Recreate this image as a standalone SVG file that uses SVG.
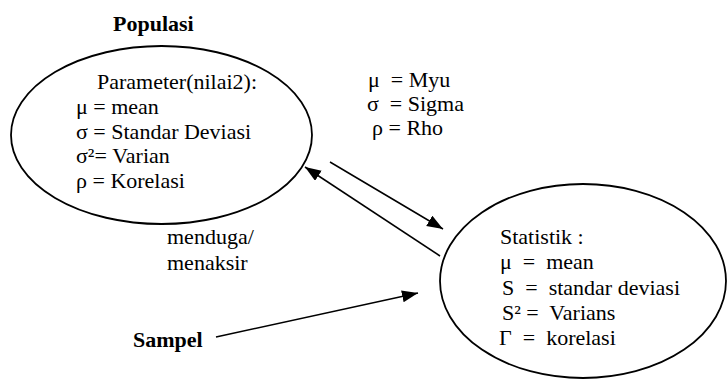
<svg xmlns="http://www.w3.org/2000/svg" width="727" height="379" viewBox="0 0 727 379">
<style>
text{font-family:"Liberation Serif","Times New Roman",serif;font-size:22px;fill:#000;white-space:pre}
.b{font-weight:bold}
.shape{fill:#fff;stroke:#000;stroke-width:1.8}
.conn{fill:none;stroke:#000;stroke-width:1.5}
</style>
<defs>
<marker id="ah" markerUnits="userSpaceOnUse" markerWidth="17" markerHeight="13" refX="16" refY="6" orient="auto">
<path d="M0,0 L16,6 L0,12 z" fill="#000"/>
</marker>
</defs>
<rect width="727" height="379" fill="#fff"/>
<g id="populasi">
<text class="b" x="113" y="31">Populasi</text>
<ellipse class="shape" cx="161.5" cy="135" rx="150.5" ry="89"/>
<text x="97" y="89">Parameter(nilai2):</text>
<text x="76" y="114">μ = mean</text>
<text x="76" y="139">σ = Standar Deviasi</text>
<text x="76" y="163">σ²= Varian</text>
<text x="76" y="188">ρ = Korelasi</text>
</g>
<g id="legend">
<text x="368" y="87" xml:space="preserve">μ  = Myu</text>
<text x="367" y="111" xml:space="preserve">σ  = Sigma</text>
<text x="372" y="135">ρ = Rho</text>
</g>
<g id="statistik">
<ellipse class="shape" cx="583" cy="281" rx="143" ry="97"/>
<text x="500" y="244">Statistik :</text>
<text x="500" y="269" xml:space="preserve">μ  =  mean</text>
<text x="502" y="295" xml:space="preserve">S  =  standar deviasi</text>
<text x="502" y="320" xml:space="preserve">S² =  Varians</text>
<text x="499" y="345" xml:space="preserve">Γ  =  korelasi</text>
</g>
<g id="menduga">
<text x="167" y="244">menduga/</text>
<text x="167" y="270">menaksir</text>
</g>
<g id="sampel">
<text class="b" x="133" y="347">Sampel</text>
</g>
<g id="connectors">
<path class="conn" d="M330,162 L443,229" marker-end="url(#ah)"/>
<path class="conn" d="M440,256 L305,167" marker-end="url(#ah)"/>
<path class="conn" d="M216,337 L418,293" marker-end="url(#ah)"/>
</g>
</svg>
